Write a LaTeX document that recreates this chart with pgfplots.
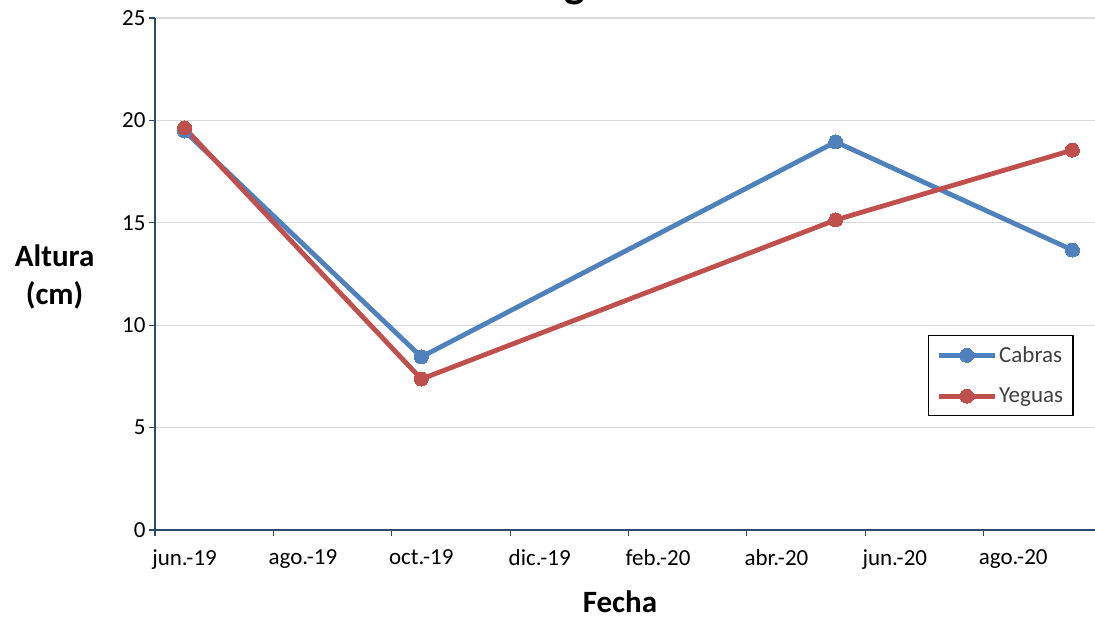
\documentclass[border=0pt]{standalone}
\usepackage{fontspec}
\setmainfont{Carlito}
\usepackage{pgfplots}
\pgfplotsset{compat=1.18}
\definecolor{cabras}{HTML}{4F81BD}
\definecolor{yeguas}{HTML}{C0504D}
\definecolor{ejes}{HTML}{2E4A6B}
\definecolor{rejilla}{HTML}{D9D9D9}
\definecolor{texto}{HTML}{404040}
\begin{document}
\begin{tikzpicture}[line join=round, line cap=round]
% eje en meses desde junio 2019; cada mes ocupa una casilla
\begin{axis}[
  at={(0pt,0pt)}, anchor=origin,
  scale only axis, width=947pt, height=512pt,
  xmin=0, xmax=16, ymin=0, ymax=25,
  axis x line*=bottom, axis y line*=left,
  axis line style={ejes, line width=1.3pt, -},
  xtick={0.5,2.5,...,14.5},
  xticklabels={jun.-19,ago.-19,oct.-19,dic.-19,feb.-20,abr.-20,jun.-20,ago.-20},
  minor xtick={0,2,...,16},
  ytick={0,5,10,15,20,25},
  tick align=outside, major tick length=6pt, minor tick length=6pt,
  tick style={ejes, line width=1.1pt},
  xtick style={draw=none},
  minor x tick style={draw=ejes, line width=1.1pt},
  ymajorgrids, grid style={rejilla, line width=1.2pt},
  /pgf/number format/assume math mode=true,
  ticklabel style={font=\fontsize{23}{27}\selectfont, text=black},
  xticklabel style={yshift=-10pt},
  xlabel={Fecha},
  xlabel style={font=\fontsize{31}{36}\selectfont\bfseries, at={(axis description cs:0.491,-0.141)}, anchor=center},
  ylabel={Altura\\(cm)},
  ylabel style={rotate=-90, font=\fontsize{31}{38}\selectfont\bfseries, align=center, at={(axis description cs:-0.106,0.494)}, anchor=center},
  legend style={at={(0.816,0.381)}, anchor=north west, draw=black, line width=1.2pt,
    font=\fontsize{23}{27}\selectfont, text=texto, row sep=20pt, inner xsep=8pt, inner ysep=9pt},
  legend cell align=left,
  legend image code/.code={\draw[mark repeat=2, mark phase=2] plot coordinates {(0pt,0pt) (28pt,0pt) (56pt,0pt)};},
  every axis plot/.append style={line width=4.8pt, mark=*, mark size=7pt},
]
\addplot[cabras, mark options={fill=cabras, draw=cabras, line width=0pt}] coordinates {
  (0.5,19.48) (4.5,8.45) (11.5,18.95) (15.5,13.67)
};
\addlegendentry{Cabras}
\addplot[yeguas, mark options={fill=yeguas, draw=yeguas, line width=0pt}] coordinates {
  (0.5,19.63) (4.5,7.37) (11.5,15.14) (15.5,18.55)
};
\addlegendentry{Yeguas}
\end{axis}
\node[overlay, anchor=base, font=\fontsize{44}{50}\selectfont\bfseries] at (420pt,532pt) {g};
\pgfresetboundingbox
\path[use as bounding box] (-155pt,-89pt) rectangle (940pt,530pt);
\end{tikzpicture}
\end{document}
